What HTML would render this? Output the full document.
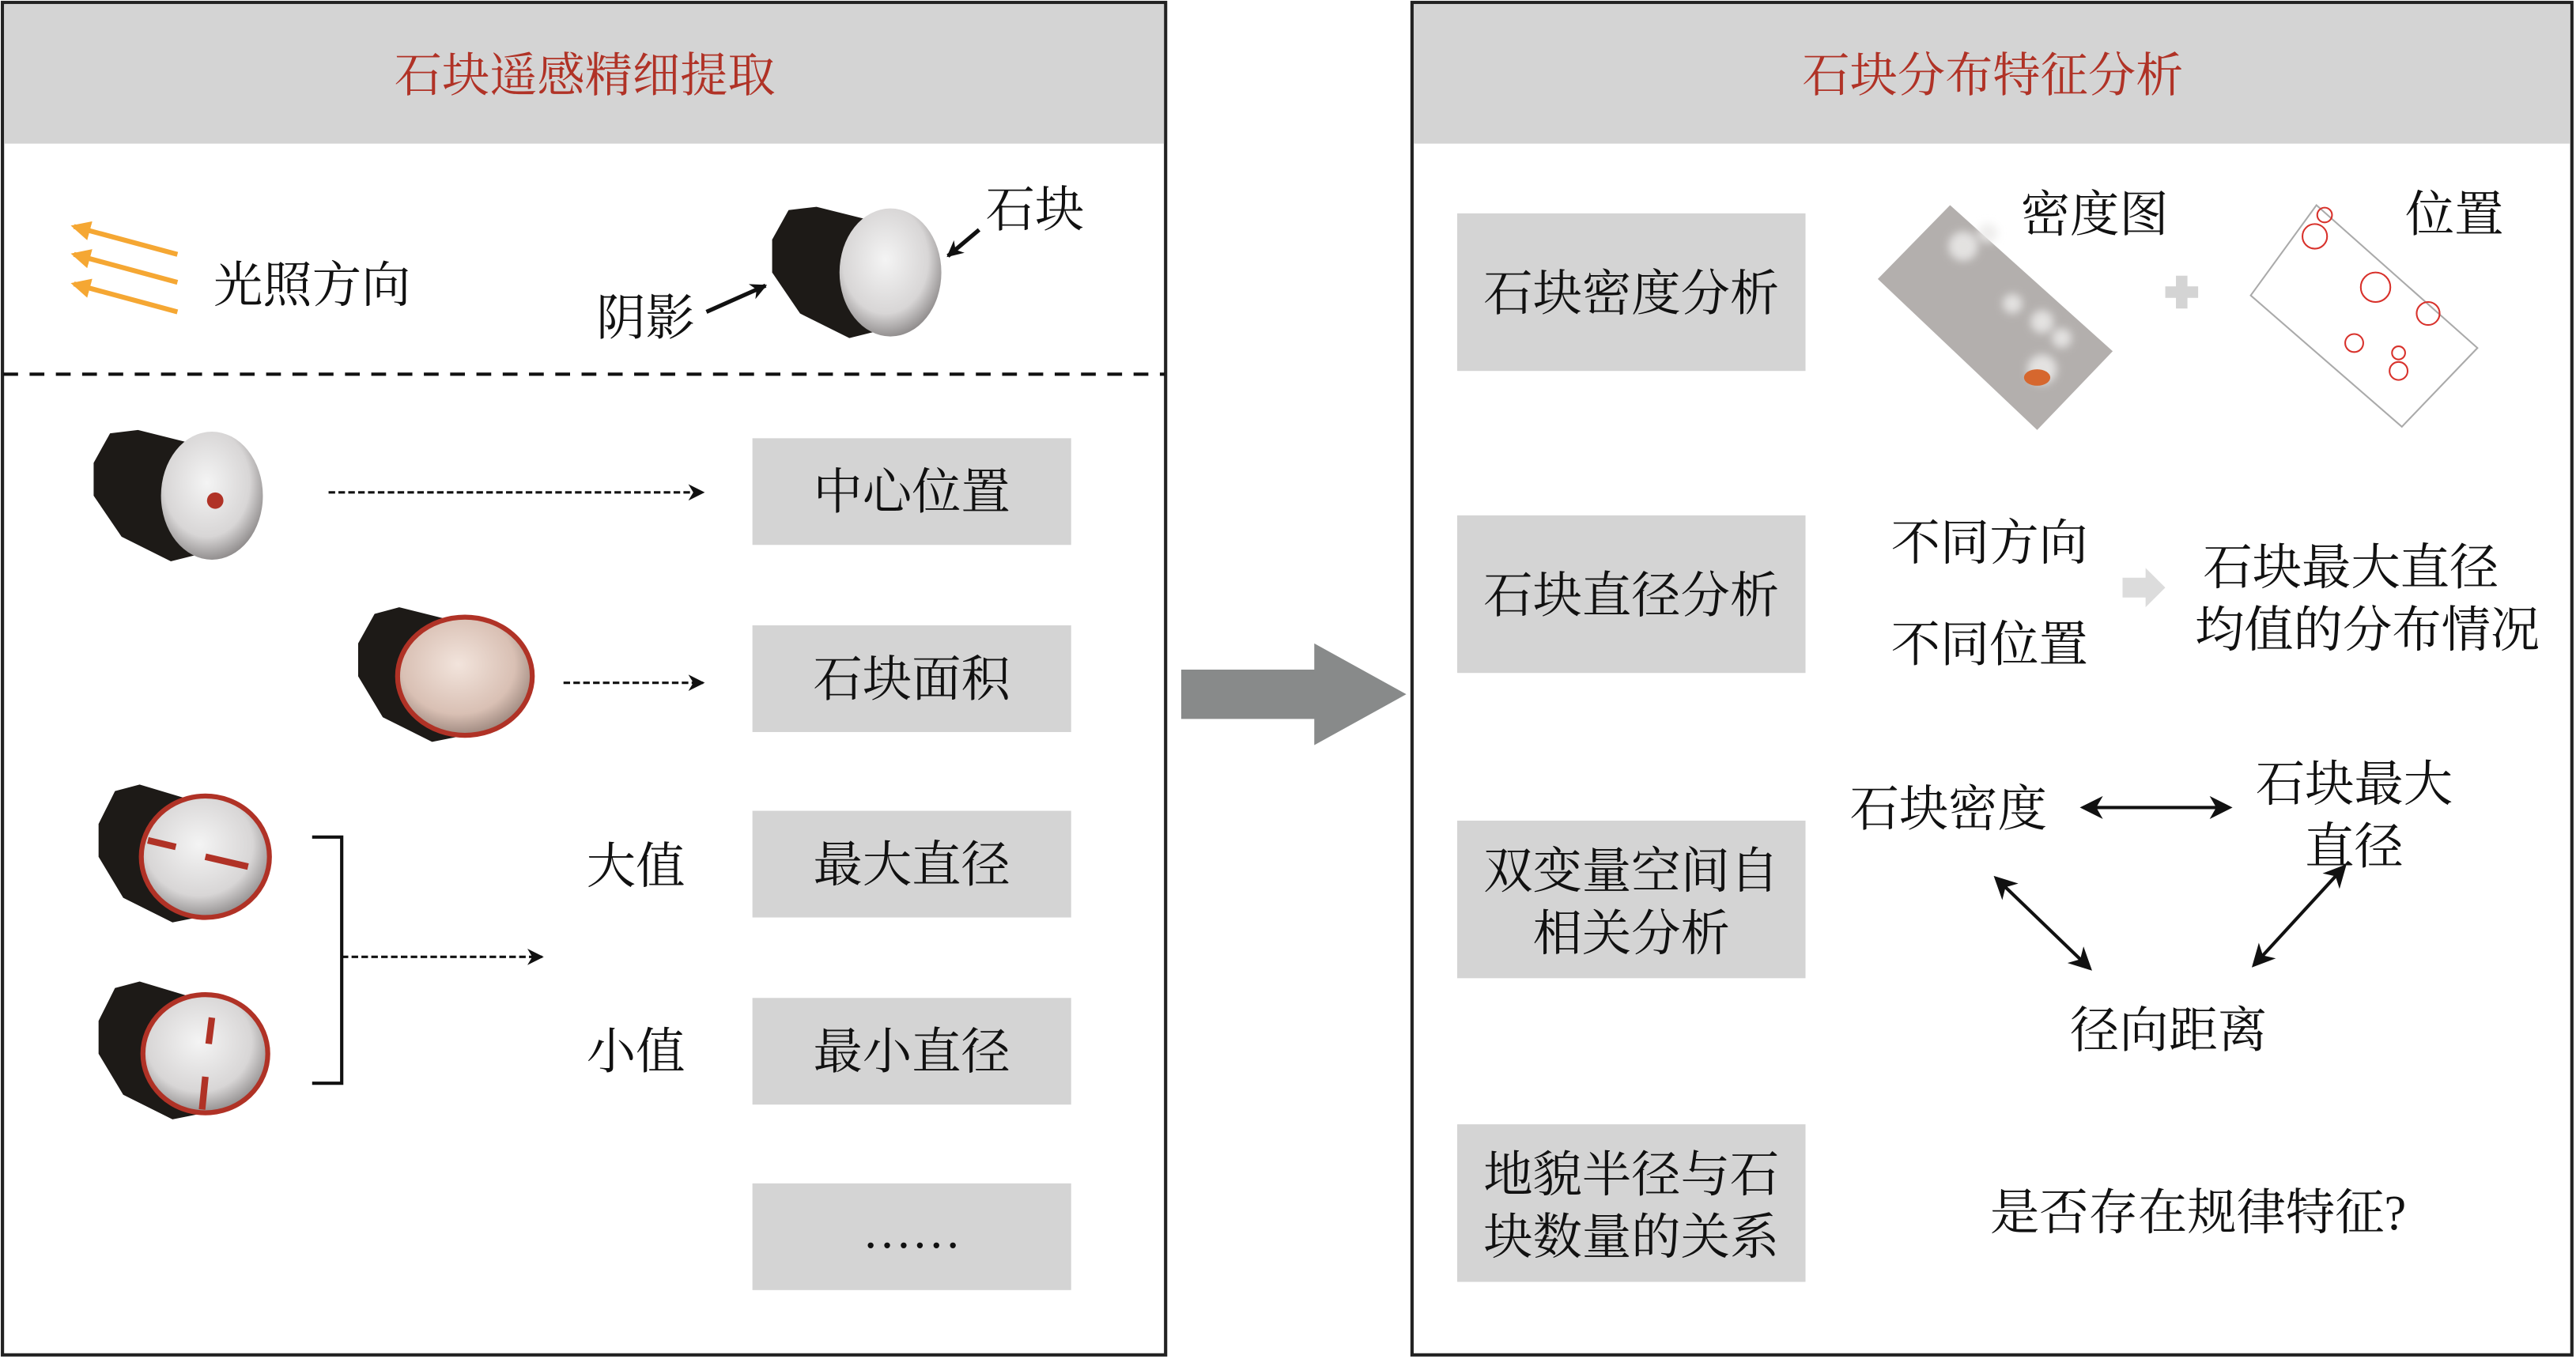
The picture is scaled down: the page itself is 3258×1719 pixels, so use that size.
<!DOCTYPE html>
<html><head><meta charset="utf-8"><style>html,body{margin:0;padding:0;background:#fff}svg{display:block}</style></head><body>
<svg width="3258" height="1719" viewBox="0 0 1568 828" preserveAspectRatio="none" xmlns="http://www.w3.org/2000/svg" font-family="'Liberation Serif','Noto Serif CJK SC',serif">
<defs>
<marker id="ah" markerWidth="10" markerHeight="10" refX="9" refY="5" orient="auto" markerUnits="userSpaceOnUse"><path d="M0,0 L10,5 L0,10 L3,5 z" fill="#111"/></marker>
<marker id="ahs" markerWidth="14" markerHeight="14" refX="12" refY="7" orient="auto-start-reverse" markerUnits="userSpaceOnUse"><path d="M0,0 L14,7 L0,14 L4,7 z" fill="#111"/></marker>
<marker id="oa" markerWidth="12" markerHeight="12" refX="10" refY="6" orient="auto" markerUnits="userSpaceOnUse"><path d="M0,0 L12,6 L0,12 z" fill="#f5a733"/></marker>
<radialGradient id="wg" cx="0.45" cy="0.4" r="0.7"><stop offset="0" stop-color="#f4f4f4"/><stop offset="0.6" stop-color="#d8d6d6"/><stop offset="1" stop-color="#6e6a6a"/></radialGradient>
<radialGradient id="pg" cx="0.45" cy="0.4" r="0.7"><stop offset="0" stop-color="#f2e4dc"/><stop offset="0.6" stop-color="#d9c0b4"/><stop offset="1" stop-color="#7e6a62"/></radialGradient>
<filter id="bl"><feGaussianBlur stdDeviation="2.5"/></filter>
<g id="rock">
<path d="M-72,-20 L-62,-38 L-45,-40 L-5,-30 L-5,35 L-25,40 L-55,25 L-72,0 z" fill="#1d1a17"/>
<ellipse cx="0" cy="0" rx="31" ry="39" fill="url(#wg)"/>
</g>
</defs>
<rect x="1.5" y="1.5" width="708" height="824" fill="#fff" stroke="#222" stroke-width="2"/>
<rect x="2.5" y="2.5" width="706" height="85" fill="#d4d4d4"/>
<text x="356" y="56" font-size="29" fill="#b03226" text-anchor="middle">石块遥感精细提取</text>
<rect x="859.5" y="1.5" width="706" height="824" fill="#fff" stroke="#222" stroke-width="2"/>
<rect x="860.5" y="2.5" width="704" height="85" fill="#d4d4d4"/>
<text x="1213" y="56" font-size="29" fill="#b03226" text-anchor="middle">石块分布特征分析</text>
<line x1="2" y1="228" x2="709" y2="228" stroke="#111" stroke-width="2" stroke-dasharray="9,7"/>
<path d="M719,408 L800,408 L800,392 L856,423 L800,454 L800,438 L719,438 z" fill="#888a8a"/>
<g stroke="#f5a733" stroke-width="3"><line x1="108" y1="155" x2="45" y2="138" marker-end="url(#oa)"/><line x1="108" y1="172" x2="45" y2="155" marker-end="url(#oa)"/><line x1="108" y1="190" x2="45" y2="173" marker-end="url(#oa)"/></g>
<g font-size="30" fill="#111">
<text x="130" y="184">光照方向</text>
<text x="600" y="138">石块</text>
<text x="363" y="204">阴影</text>
</g>
<line x1="596" y1="140" x2="577" y2="156" stroke="#111" stroke-width="2.5" marker-end="url(#ah)"/>
<line x1="430" y1="190" x2="466" y2="174" stroke="#111" stroke-width="2.5" marker-end="url(#ah)"/>
<use href="#rock" transform="translate(542,166)"/>
<use href="#rock" transform="translate(129,302)"/>
<circle cx="131" cy="305" r="5" fill="#b03226"/>
<line x1="200" y1="300" x2="428" y2="300" stroke="#111" stroke-width="1.5" stroke-dasharray="4,2" marker-end="url(#ah)"/>
<g transform="translate(283,412)"><path d="M-65,-20 L-55,-38 L-40,-42 L0,-32 L0,36 L-20,40 L-50,25 L-65,0 z" fill="#1d1a17"/><ellipse cx="0" cy="0" rx="41" ry="36" fill="url(#pg)" stroke="#b03226" stroke-width="3"/></g>
<line x1="343" y1="416" x2="428" y2="416" stroke="#111" stroke-width="1.5" stroke-dasharray="4,2" marker-end="url(#ah)"/>
<g transform="translate(125,522)"><path d="M-65,-20 L-55,-40 L-40,-44 L0,-32 L0,36 L-20,40 L-50,25 L-65,0 z" fill="#1d1a17"/><ellipse cx="0" cy="0" rx="39" ry="37" fill="url(#wg)" stroke="#b03226" stroke-width="3"/><line x1="-35" y1="-10" x2="-18" y2="-6" stroke="#b03226" stroke-width="4"/><line x1="0" y1="0" x2="26" y2="6" stroke="#b03226" stroke-width="4"/></g>
<g transform="translate(125,642)"><path d="M-65,-20 L-55,-40 L-40,-44 L0,-32 L0,36 L-20,40 L-50,25 L-65,0 z" fill="#1d1a17"/><ellipse cx="0" cy="0" rx="38" ry="36" fill="url(#wg)" stroke="#b03226" stroke-width="3"/><line x1="4" y1="-22" x2="2" y2="-6" stroke="#b03226" stroke-width="4"/><line x1="0" y1="14" x2="-2" y2="34" stroke="#b03226" stroke-width="4"/></g>
<path d="M190,510 L208,510 L208,660 L190,660" fill="none" stroke="#111" stroke-width="2"/>
<line x1="208" y1="583" x2="330" y2="583" stroke="#111" stroke-width="1.5" stroke-dasharray="4,2" marker-end="url(#ah)"/>
<g fill="#d4d4d4"><rect x="458" y="267" width="194" height="65"/><rect x="458" y="381" width="194" height="65"/><rect x="458" y="494" width="194" height="65"/><rect x="458" y="608" width="194" height="65"/><rect x="458" y="721" width="194" height="65"/></g>
<g font-size="30" fill="#111" text-anchor="middle">
<text x="555" y="310">中心位置</text>
<text x="555" y="424">石块面积</text>
<text x="555" y="537">最大直径</text>
<text x="555" y="651">最小直径</text>
<text x="555" y="760">……</text>
<text x="387" y="538">大值</text>
<text x="387" y="651">小值</text>
</g>
<g fill="#d4d4d4"><rect x="887" y="130" width="212" height="96"/><rect x="887" y="314" width="212" height="96"/><rect x="887" y="500" width="212" height="96"/><rect x="887" y="685" width="212" height="96"/></g>
<g font-size="30" fill="#111" text-anchor="middle">
<text x="993" y="189">石块密度分析</text>
<text x="993" y="373">石块直径分析</text>
<text x="993" y="541">双变量空间自</text>
<text x="993" y="579">相关分析</text>
<text x="993" y="726">地貌半径与石</text>
<text x="993" y="764">块数量的关系</text>
<text x="1275" y="141">密度图</text>
<text x="1494" y="141">位置</text>
<text x="1211" y="341">不同方向</text>
<text x="1211" y="403">不同位置</text>
<text x="1431" y="356">石块最大直径</text>
<text x="1441" y="394">均值的分布情况</text>
<text x="1186" y="503">石块密度</text>
<text x="1433" y="488">石块最大</text>
<text x="1433" y="526">直径</text>
<text x="1320" y="638">径向距离</text>
<text x="1338" y="749">是否存在规律特征?</text>
</g>
<polygon points="1187,125 1286,214 1240,262 1143,170" fill="#b3afad"/>
<g fill="#ecebea" opacity="0.85" filter="url(#bl)"><circle cx="1195" cy="150" r="9"/><circle cx="1210" cy="142" r="6"/><circle cx="1243" cy="196" r="7"/><circle cx="1255" cy="206" r="6"/><circle cx="1225" cy="185" r="6"/><circle cx="1243" cy="225" r="9"/></g>
<ellipse cx="1240" cy="230" rx="8" ry="5" fill="#d6672e"/>
<path d="M1318,178 H1338 M1328,168 V188" stroke="#d4d4d4" stroke-width="7"/>
<polygon points="1410,125 1508,212 1462,260 1370,180" fill="#fff" stroke="#aaa" stroke-width="1"/>
<g fill="none" stroke="#d8312b" stroke-width="1"><circle cx="1415" cy="131" r="4.5"/><circle cx="1409" cy="144" r="7.5"/><circle cx="1446" cy="175" r="9"/><circle cx="1478" cy="191" r="7"/><circle cx="1433" cy="209" r="5.5"/><circle cx="1460" cy="215" r="4"/><circle cx="1460" cy="226" r="5.5"/></g>
<path d="M1292,352 L1306,352 L1306,346 L1318,358 L1306,370 L1306,364 L1292,364 z" fill="#dcdcdc"/>
<g stroke="#111" stroke-width="2">
<line x1="1268" y1="492" x2="1357" y2="492" marker-start="url(#ahs)" marker-end="url(#ahs)"/>
<line x1="1215" y1="535" x2="1272" y2="590" marker-start="url(#ahs)" marker-end="url(#ahs)"/>
<line x1="1427" y1="528" x2="1372" y2="588" marker-start="url(#ahs)" marker-end="url(#ahs)"/>
</g>
</svg>
</body></html>
